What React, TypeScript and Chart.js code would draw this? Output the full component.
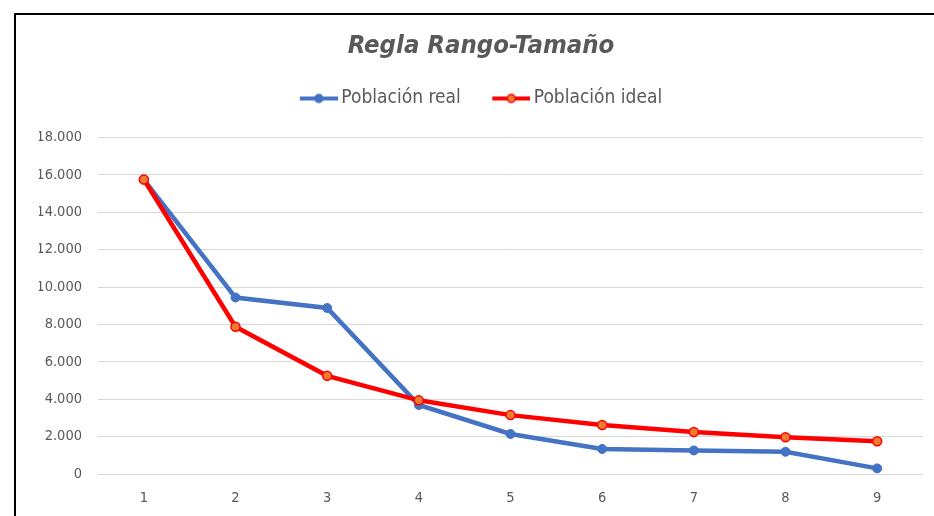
import React, { useEffect, useRef } from "react";
import { Chart, registerables } from "chart.js";

Chart.register(...registerables);

const categories = ["1", "2", "3", "4", "5", "6", "7", "8", "9"];
const poblacionReal = [15750, 9440, 8880, 3690, 2140, 1340, 1260, 1190, 300];
const poblacionIdeal = [15750, 7875, 5250, 3940, 3150, 2625, 2250, 1970, 1750];
const seriesNames = ["Población real", "Población ideal"];
const titleText = "Regla Rango-Tamaño";

const FONT = "'Liberation Sans Narrow', 'DejaVu Sans Condensed', 'Open Sans', sans-serif";
const GRAY = "#595959";
const BLUE = "#4472C4";
const RED = "#FF0000";
const ORANGE = "#ED7D31";

function legendIcon(line: string, fill: string, stroke: string): HTMLCanvasElement {
  const c = document.createElement("canvas");
  c.width = 44;
  c.height = 12;
  const ctx = c.getContext("2d")!;
  ctx.strokeStyle = line;
  ctx.lineWidth = 4;
  ctx.beginPath();
  ctx.moveTo(6, 6);
  ctx.lineTo(44, 6);
  ctx.stroke();
  ctx.beginPath();
  ctx.arc(25, 6, 4, 0, Math.PI * 2);
  ctx.fillStyle = fill;
  ctx.fill();
  ctx.lineWidth = 1.5;
  ctx.strokeStyle = stroke;
  ctx.stroke();
  return c;
}

const fmt = (v: number) => {
  const s = String(Math.round(v));
  return s.replace(/\B(?=(\d{3})+(?!\d))/g, ".");
};

export default function App() {
  const ref = useRef<HTMLCanvasElement | null>(null);

  useEffect(() => {
    document.body.style.margin = "0";
    const icons = [legendIcon(BLUE, BLUE, BLUE), legendIcon(RED, ORANGE, RED)];
    const chart = new Chart(ref.current!, {
      type: "line",
      data: {
        labels: categories,
        datasets: [
          {
            label: seriesNames[0],
            data: poblacionReal,
            borderColor: BLUE,
            backgroundColor: BLUE,
            borderWidth: 4.5,
            pointRadius: 4.5,
            pointBorderWidth: 1,
            pointBackgroundColor: BLUE,
            pointBorderColor: BLUE,
            tension: 0,
            order: 1,
          },
          {
            label: seriesNames[1],
            data: poblacionIdeal,
            borderColor: RED,
            backgroundColor: ORANGE,
            borderWidth: 4.5,
            pointRadius: 4.5,
            pointBorderWidth: 1.5,
            pointBackgroundColor: ORANGE,
            pointBorderColor: RED,
            tension: 0,
            order: 0,
          },
        ],
      },
      options: {
        responsive: false,
        animation: false,
        layout: { padding: { left: 39, right: 11, top: 0, bottom: 0 } },
        plugins: {
          tooltip: { enabled: false },
          title: {
            display: true,
            text: titleText,
            color: GRAY,
            font: { family: FONT, size: 25.5, weight: "bold", style: "italic", lineHeight: 1.0 },
            padding: { top: 34, bottom: -2 },
          },
          subtitle: {
            display: true,
            text: "",
            weight: 500,
            font: { size: 1, lineHeight: 1 },
            padding: { top: 18.5, bottom: 0 },
          },
          legend: {
            display: true,
            labels: {
              usePointStyle: true,
              pointStyleWidth: 32,
              color: GRAY,
              font: { family: FONT, size: 19 },
              padding: 31.5,
              sort: (a: any, b: any) => a.datasetIndex - b.datasetIndex,
              generateLabels: (ch: any) => {
                const items = Chart.defaults.plugins.legend.labels.generateLabels(ch);
                return items.map((it: any) => ({ ...it, pointStyle: icons[it.datasetIndex] }));
              },
            },
          },
        },
        scales: {
          x: {
            offset: true,
            grid: { display: false, drawTicks: false },
            border: { display: false },
            ticks: { color: GRAY, font: { family: FONT, size: 14.5 }, padding: 16 },
            afterFit: (s: any) => {
              s.height = 42;
            },
          },
          y: {
            min: 0,
            max: 18000,
            grid: { color: "#D9D9D9", lineWidth: 1, drawTicks: false },
            border: { display: false },
            ticks: {
              stepSize: 2000,
              color: GRAY,
              font: { family: FONT, size: 14.5 },
              padding: 16,
              callback: (v: any) => fmt(Number(v)),
            },
            afterFit: (s: any) => {
              s.width = 59;
            },
          },
        },
      },
    });
    return () => chart.destroy();
  }, []);

  return (
    <div style={{ position: "relative", width: 934, height: 516, overflow: "hidden", background: "#fff" }}>
      <canvas ref={ref} width={934} height={516} style={{ position: "absolute", left: 0, top: 0 }} />
      <div
        style={{
          position: "absolute",
          left: 14,
          top: 13,
          width: 1000,
          height: 600,
          borderLeft: "2px solid #000",
          borderTop: "2px solid #000",
          pointerEvents: "none",
        }}
      />
    </div>
  );
}
